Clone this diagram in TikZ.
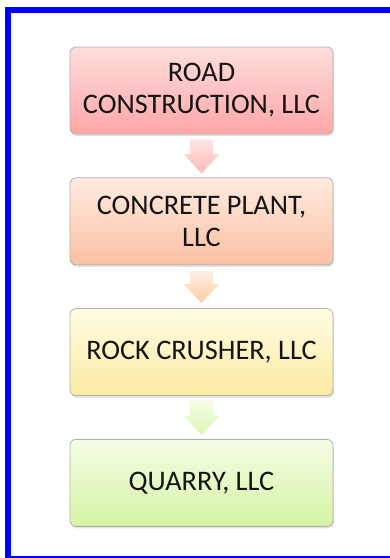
\documentclass[tikz,border=0pt]{standalone}
\usepackage{fontspec}
\setmainfont{Carlito}
\usepackage{xcolor}
\usetikzlibrary{positioning,calc,shadows}
\definecolor{roadtop}{HTML}{FFDEDE}
\definecolor{roadbot}{HTML}{FFA6A6}
\definecolor{planttop}{HTML}{FFEBE0}
\definecolor{plantbot}{HTML}{FCC0A2}
\definecolor{rocktop}{HTML}{FFFCE2}
\definecolor{rockbot}{HTML}{FCEBA2}
\definecolor{quarrytop}{HTML}{F5FDE6}
\definecolor{quarrybot}{HTML}{D5F4A4}
\tikzset{firmbox/.style={draw=black!30, line width=0.8pt, rounded corners=6pt,
    minimum width=263pt, minimum height=87pt, align=center, text=black!92,
    font=\fontsize{28.3}{32}\selectfont,
    drop shadow={shadow xshift=1pt, shadow yshift=-2pt, opacity=0.25}},
  frame/.style={draw=blue, line join=miter}}

\begin{document}
\begin{tikzpicture}[x=1pt,y=1pt]
   \useasboundingbox (0,0) rectangle (390,558);
   \draw[frame, line width=6pt] (8,0) -- (8,548) -- (389.5,548);
   \draw[frame, line width=2pt] (8,1) -- (389.5,1);
   \node[firmbox, top color=roadtop, bottom color=roadbot] (road) at (201.5,467.5) {ROAD\\CONSTRUCTION, LLC};
   \node[firmbox, top color=planttop, bottom color=plantbot, below=43pt of road] (plant) {CONCRETE PLANT,\\LLC};
   \node[firmbox, top color=rocktop, bottom color=rockbot, below=43pt of plant] (rock) {ROCK CRUSHER, LLC};
   \node[firmbox, top color=quarrytop, bottom color=quarrybot, below=43pt of rock] (quarry) {QUARRY, LLC};
   \shade[top color=roadtop!80, bottom color=roadbot!80] let \p1=($(road.south)+(0,-5)$), \p2=($(plant.north)+(0,4)$) in
      (\x1-11.5,\y1) -- (\x1+11.5,\y1) -- (\x1+11.5,\y2+19) -- (\x1+17.5,\y2+19) -- (\x2,\y2) -- (\x1-17.5,\y2+19) -- (\x1-11.5,\y2+19) -- cycle;
   \shade[top color=planttop!80, bottom color=plantbot!70!rockbot] let \p1=($(plant.south)+(0,-6)$), \p2=($(rock.north)+(0,5)$) in
      (\x1-11.5,\y1) -- (\x1+11.5,\y1) -- (\x1+11.5,\y2+19) -- (\x1+17.5,\y2+19) -- (\x2,\y2) -- (\x1-17.5,\y2+19) -- (\x1-11.5,\y2+19) -- cycle;
   \shade[top color=quarrytop, bottom color=quarrybot!80] let \p1=($(rock.south)+(0,-4)$), \p2=($(quarry.north)+(0,4)$) in
      (\x1-11.5,\y1) -- (\x1+11.5,\y1) -- (\x1+11.5,\y2+19) -- (\x1+17.5,\y2+19) -- (\x2,\y2) -- (\x1-17.5,\y2+19) -- (\x1-11.5,\y2+19) -- cycle;
\end{tikzpicture}
\end{document}
